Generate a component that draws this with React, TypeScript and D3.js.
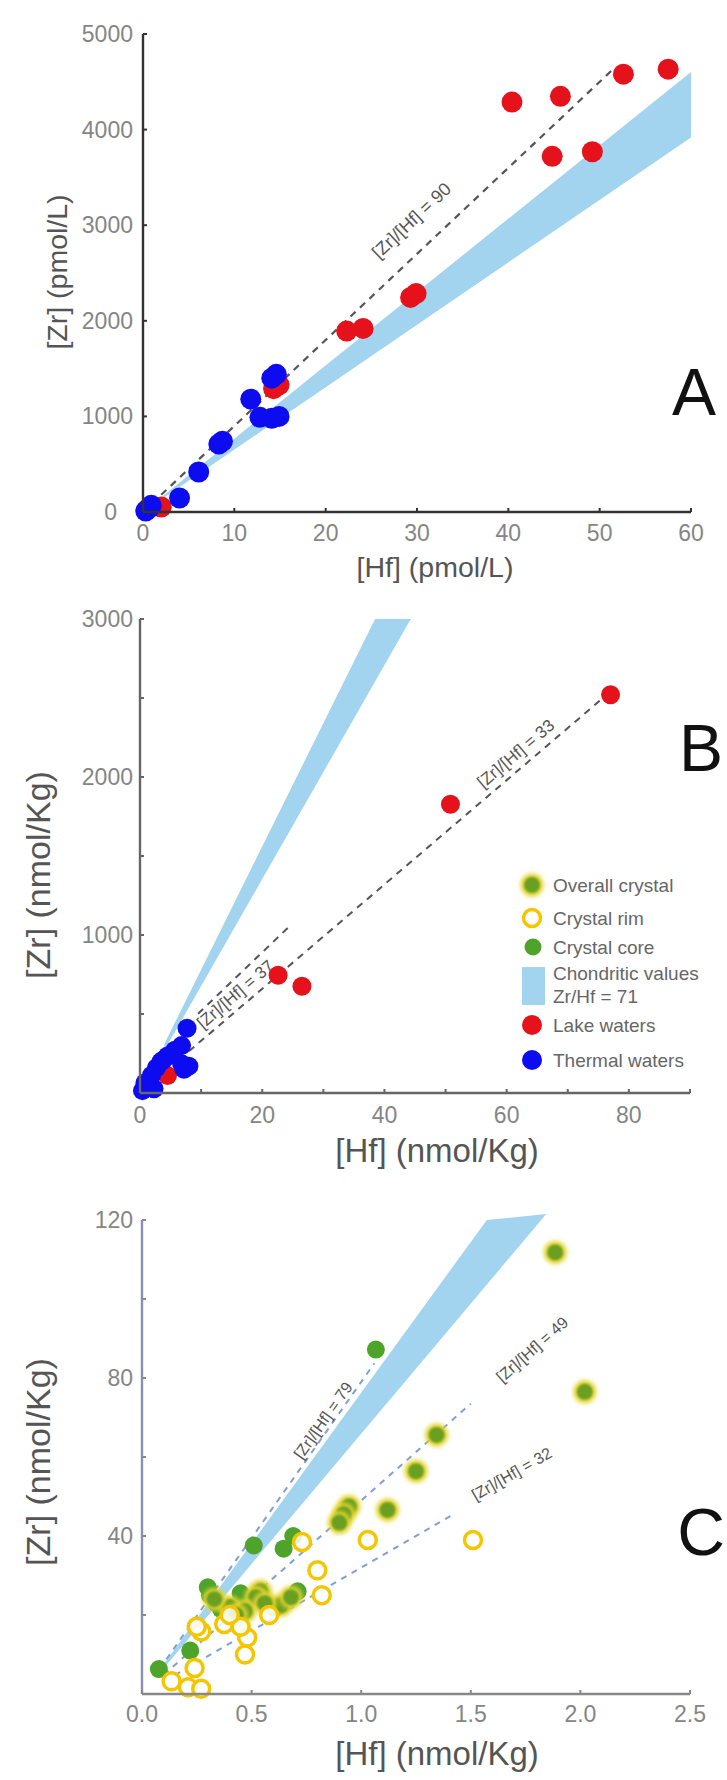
import React from "react";
import * as d3 from "d3";

// ---------- DATA ----------
// Panel A (pmol/L)
const aLakeHf = [40.4, 45.7, 52.6, 57.5, 44.8, 49.2, 29.3, 29.9, 22.3, 24.1, 14.3, 14.9, 2.0];
const aLakeZr = [4288, 4348, 4580, 4632, 3720, 3768, 2245, 2285, 1892, 1920, 1290, 1330, 52];
const aThermalHf = [14.6, 14.1, 11.8, 12.8, 14.1, 14.9, 8.7, 8.3, 6.1, 4.0, 0.7, 0.3, 0.9, 0.5];
const aThermalZr = [1440, 1400, 1180, 990, 980, 1000, 740, 710, 418, 146, 42, 10, 70, 30];
const aBandRatios = [76.7, 65.3];
const aBandHf = [2, 60];
const aLineRatio = [90];
const aLineHf = [[2, 51.5]];
const aLineLabelHf = [31.5];

// Panel B (nmol/Kg)
const bLakeHf = [77.0, 50.8, 22.6, 26.5, 4.5];
const bLakeZr = [2521, 1827, 745, 676, 110];
const bThermalHf = [7.7, 6.8, 5.7, 4.5, 3.4, 7.2, 8.0, 6.8, 2.7, 1.9, 0.8, 1.1, 0.4, 2.3, 3.8, 1.1];
const bThermalZr = [410, 300, 270, 234, 197, 150, 170, 185, 160, 112, 63, 39, 15, 27, 209, 50];
const bBandRatios = [78, 67.7];
const bBandHf = [4];
const bBandTopZr = 3000;
const bLineRatio = [33, 37];
const bLineIntercept = [0, 150];
const bLineHf = [[8, 77], [9.5, 24.5]];
const bLineLabelHf = [63, 17];

// Panel C (nmol/Kg)
const cOverallHf = [1.885, 2.02, 1.344, 1.25, 1.12, 0.944, 0.92, 0.9, 0.54, 0.635, 0.4, 0.52, 0.47, 0.56, 0.68, 0.33, 0.43];
const cOverallZr = [111.8, 76.5, 65.6, 56.4, 46.6, 47.5, 45.5, 43.4, 26, 22.5, 22, 24.5, 21, 23, 24.5, 24, 20];
const cCoreHf = [1.067, 0.51, 0.646, 0.69, 0.3, 0.31, 0.34, 0.36, 0.45, 0.47, 0.71, 0.22, 0.077, 0.6];
const cCoreZr = [87.2, 37.6, 36.8, 40, 27, 25, 23, 21.5, 25.5, 23, 26, 11, 6.3, 22];
const cRimHf = [1.51, 1.03, 0.73, 0.8, 0.82, 0.48, 0.47, 0.27, 0.375, 0.24, 0.21, 0.27, 0.135, 0.25, 0.45, 0.58, 0.4];
const cRimZr = [39, 39, 38.5, 31.3, 25, 14.3, 10, 15.8, 17.7, 6.6, 1.7, 1.3, 3.2, 17, 17, 20, 20];
const cBandRatios = [76.3, 65.9];
const cBandHf = [0.08];
const cBandTop = [[1.573, 120], [1.844, 121.5]];
const cLineRatio = [79, 49, 32];
const cLineHf = [[0.08, 1.06], [0.1, 1.5], [0.15, 1.43]];
const cLineLabelHf = [0.86, 1.78, 1.7];

// Ticks
const aXTicks = [0, 10, 20, 30, 40, 50, 60];
const aYTicks = [0, 1000, 2000, 3000, 4000, 5000];
const bXTicks = [0, 10, 20, 30, 40, 50, 60, 70, 80, 90];
const bXLabels = [0, 20, 40, 60, 80];
const bYTicks = [0, 500, 1000, 1500, 2000, 2500, 3000];
const bYLabels = [1000, 2000, 3000];
const cXTicks = [0, 0.5, 1.0, 1.5, 2.0, 2.5];
const cYTicks = [0, 20, 40, 60, 80, 100, 120];
const cYLabels = [40, 80, 120];

const legendLabels = ["Overall crystal", "Crystal rim", "Crystal core", "Chondritic values", "Zr/Hf = 71", "Lake waters", "Thermal waters"];

// ---------- STYLE ----------
const FONT = "'Liberation Sans', Arial, Helvetica, sans-serif";
const RED = "#e5121b";
const BLUE = "#0d0cf0";
const BAND = "#a2d4ef";
const CORE = "#4ea32a";
const OVERALL = "#6a9f22";
const HALO = "#e2d42e";
const RIM = "#f3c600";
const TICKC = "#858585";

type Sc = d3.ScaleLinear<number, number>;

function lineLabel(x: Sc, y: Sc, ratio: number, intercept: number, hf: number, text: string, off: number, size: number, color: string, key: string) {
  const px = x(hf);
  const py = y(ratio * hf + intercept);
  const px2 = x(hf + 1);
  const py2 = y(ratio * (hf + 1) + intercept);
  const ang = (Math.atan2(py2 - py, px2 - px) * 180) / Math.PI;
  return (
    <g key={key} transform={`translate(${px},${py}) rotate(${ang})`}>
      <text y={off} textAnchor="middle" dominantBaseline="central" fontFamily={FONT} fontSize={size} fill={color}>
        {text}
      </text>
    </g>
  );
}

function Axes(props: {
  x: Sc; y: Sc; xTicks: number[]; xLabels: number[]; yTicks: number[]; yLabels: number[];
  fmtX: (v: number) => string; fmtY: (v: number) => string; axisColor: string; yAxisColor?: string; fontSize: number;
  xLabelY: number; yLabelX: number; zeroShift?: number;
}) {
  const { x, y, xTicks, xLabels, yTicks, yLabels, fmtX, fmtY, axisColor, fontSize, xLabelY, yLabelX } = props;
  const [x0, x1] = x.range();
  const [y0, y1] = y.range();
  return (
    <g>
      <line x1={x0} x2={x1} y1={y0} y2={y0} stroke={axisColor} strokeWidth={2.4} />
      <line x1={x0} x2={x0} y1={y0} y2={y1} stroke={props.yAxisColor || axisColor} strokeWidth={2.4} />
      {xTicks.map((t) => (
        <line key={"xt" + t} x1={x(t)} x2={x(t)} y1={y0} y2={y0 - 4} stroke={axisColor} strokeWidth={2} />
      ))}
      {yTicks.map((t) => (
        <line key={"yt" + t} x1={x0} x2={x0 + 4} y1={y(t)} y2={y(t)} stroke={axisColor} strokeWidth={2} />
      ))}
      {xLabels.map((t) => (
        <text key={"xl" + t} x={x(t)} y={xLabelY} textAnchor="middle" dominantBaseline="central" fontFamily={FONT} fontSize={fontSize} fill={TICKC}>
          {fmtX(t)}
        </text>
      ))}
      {yLabels.map((t) => (
        <text key={"yl" + t} x={yLabelX - (t === 0 && props.zeroShift ? props.zeroShift : 0)} y={y(t)} textAnchor="end" dominantBaseline="central" fontFamily={FONT} fontSize={fontSize} fill={TICKC}>
          {fmtY(t)}
        </text>
      ))}
    </g>
  );
}

export default function App() {
  // scales
  const ax = d3.scaleLinear().domain([0, 60]).range([143, 691]);
  const ay = d3.scaleLinear().domain([0, 5000]).range([512, 34]);
  const bx = d3.scaleLinear().domain([0, 90]).range([140, 690]);
  const by = d3.scaleLinear().domain([0, 3000]).range([1093, 619]);
  const cx = d3.scaleLinear().domain([0, 2.5]).range([142, 690]);
  const cy = d3.scaleLinear().domain([0, 120]).range([1694, 1220]);

  const line = d3.line<[number, number]>();

  // bands
  const aBand: [number, number][] = [
    [ax(aBandHf[0]), ay(aBandRatios[0] * aBandHf[0])],
    [ax(aBandHf[1]), ay(aBandRatios[0] * aBandHf[1])],
    [ax(aBandHf[1]), ay(aBandRatios[1] * aBandHf[1])],
    [ax(aBandHf[0]), ay(aBandRatios[1] * aBandHf[0])],
  ];
  const bBand: [number, number][] = [
    [bx(bBandHf[0]), by(bBandRatios[0] * bBandHf[0])],
    [bx(bBandTopZr / bBandRatios[0]), by(bBandTopZr)],
    [bx(bBandTopZr / bBandRatios[1]), by(bBandTopZr)],
    [bx(bBandHf[0]), by(bBandRatios[1] * bBandHf[0])],
  ];
  const cBand: [number, number][] = [
    [cx(cBandHf[0]), cy(cBandRatios[0] * cBandHf[0])],
    [cx(cBandTop[0][0]), cy(cBandTop[0][1])],
    [cx(cBandTop[1][0]), cy(cBandTop[1][1])],
    [cx(cBandHf[0]), cy(cBandRatios[1] * cBandHf[0])],
  ];

  const overallPt = (hf: number, zr: number, i: number, r: number) => (
    <g key={"ov" + i}>
      <circle cx={cx(hf)} cy={cy(zr)} r={r + 2.5} fill={HALO} filter="url(#blur2)" />
      <circle cx={cx(hf)} cy={cy(zr)} r={r - 1} fill={OVERALL} filter="url(#blur1)" />
    </g>
  );

  return (
    <svg width={727} height={1780} style={{ position: "absolute", left: 0, top: 0, background: "#fff" }}>
      <defs>
        <filter id="blur2" x="-50%" y="-50%" width="200%" height="200%">
          <feGaussianBlur stdDeviation="2" />
        </filter>
        <filter id="blur1" x="-50%" y="-50%" width="200%" height="200%">
          <feGaussianBlur stdDeviation="0.8" />
        </filter>
      </defs>
      <rect x={0} y={0} width={727} height={1780} fill="#fff" />

      {/* ---------------- Panel A ---------------- */}
      <g>
        <path d={line(aBand) + "Z"} fill={BAND} />
        {aLineRatio.map((r, i) => (
          <path key={"al" + i} d={line([[ax(aLineHf[i][0]), ay(r * aLineHf[i][0])], [ax(aLineHf[i][1]), ay(r * aLineHf[i][1])]])!} stroke="#555" strokeWidth={2.2} strokeDasharray="7,6" fill="none" />
        ))}
        {aLineRatio.map((r, i) => lineLabel(ax, ay, r, 0, aLineLabelHf[i], `[Zr]/[Hf] = ${r}`, -28, 18, "#555", "all" + i))}
        {aLakeHf.map((h, i) => (
          <circle key={"ar" + i} cx={ax(h)} cy={ay(aLakeZr[i])} r={10.5} fill={RED} />
        ))}
        {aThermalHf.map((h, i) => (
          <circle key={"ab" + i} cx={ax(h)} cy={ay(aThermalZr[i])} r={10.5} fill={BLUE} />
        ))}
        <Axes x={ax} y={ay} xTicks={aXTicks} xLabels={aXTicks} yTicks={aYTicks} yLabels={aYTicks}
          fmtX={(v) => String(v)} fmtY={(v) => String(v)} axisColor="#333" fontSize={23} xLabelY={533} yLabelX={133} zeroShift={16} />
        <text x={435} y={567} textAnchor="middle" dominantBaseline="central" fontFamily={FONT} fontSize={28.5} fill="#555">[Hf] (pmol/L)</text>
        <text transform="translate(57,272) rotate(-90)" textAnchor="middle" dominantBaseline="central" fontFamily={FONT} fontSize={28.5} fill="#555">[Zr] (pmol/L)</text>
        <text x={694} y={392} textAnchor="middle" dominantBaseline="central" fontFamily={FONT} fontSize={66} fill="#111">A</text>
      </g>

      {/* ---------------- Panel B ---------------- */}
      <g>
        <path d={line(bBand) + "Z"} fill={BAND} />
        {bLineRatio.map((r, i) => (
          <path key={"bl" + i} d={line([[bx(bLineHf[i][0]), by(r * bLineHf[i][0] + bLineIntercept[i])], [bx(bLineHf[i][1]), by(r * bLineHf[i][1] + bLineIntercept[i])]])!} stroke="#555" strokeWidth={2} strokeDasharray="7,6" fill="none" />
        ))}
        {lineLabel(bx, by, bLineRatio[0], 0, bLineLabelHf[0], `[Zr]/[Hf] = ${bLineRatio[0]}`, -14, 17, "#555", "bll0")}
        {lineLabel(bx, by, bLineRatio[0], 0, bLineLabelHf[1], `[Zr]/[Hf] = ${bLineRatio[1]}`, -13, 17, "#555", "bll1")}
        {bLakeHf.map((h, i) => (
          <circle key={"br" + i} cx={bx(h)} cy={by(bLakeZr[i])} r={9.5} fill={RED} />
        ))}
        {bThermalHf.map((h, i) => (
          <circle key={"bb" + i} cx={bx(h)} cy={by(bThermalZr[i])} r={9.5} fill={BLUE} />
        ))}
        <Axes x={bx} y={by} xTicks={bXTicks} xLabels={bXLabels} yTicks={bYTicks} yLabels={bYLabels}
          fmtX={(v) => String(v)} fmtY={(v) => String(v)} axisColor="#666" fontSize={23} xLabelY={1115} yLabelX={133} />
        <text x={437} y={1150} textAnchor="middle" dominantBaseline="central" fontFamily={FONT} fontSize={33} fill="#555">[Hf] (nmol/Kg)</text>
        <text transform="translate(38,875) rotate(-90)" textAnchor="middle" dominantBaseline="central" fontFamily={FONT} fontSize={34} fill="#555">[Zr] (nmol/Kg)</text>
        <text x={701} y={748} textAnchor="middle" dominantBaseline="central" fontFamily={FONT} fontSize={66} fill="#111">B</text>

        {/* legend */}
        <g fontFamily={FONT} fontSize={19} fill="#666">
          <circle cx={532} cy={885} r={11.5} fill={HALO} filter="url(#blur2)" />
          <circle cx={532} cy={885} r={8} fill={OVERALL} filter="url(#blur1)" />
          <text x={553} y={885} dominantBaseline="central">{legendLabels[0]}</text>
          <circle cx={532} cy={918} r={8.5} fill="#fff" stroke={RIM} strokeWidth={3.5} />
          <text x={553} y={918} dominantBaseline="central">{legendLabels[1]}</text>
          <circle cx={533} cy={947} r={8.5} fill={CORE} />
          <text x={553} y={947} dominantBaseline="central">{legendLabels[2]}</text>
          <rect x={522} y={967} width={23} height={38} fill={BAND} />
          <text x={553} y={973} dominantBaseline="central">{legendLabels[3]}</text>
          <text x={553} y={996} dominantBaseline="central">{legendLabels[4]}</text>
          <circle cx={532} cy={1025} r={10} fill={RED} />
          <text x={553} y={1025} dominantBaseline="central">{legendLabels[5]}</text>
          <circle cx={532} cy={1060} r={10} fill={BLUE} />
          <text x={553} y={1060} dominantBaseline="central">{legendLabels[6]}</text>
        </g>
      </g>

      {/* ---------------- Panel C ---------------- */}
      <g>
        <path d={line(cBand) + "Z"} fill={BAND} />
        {cLineRatio.map((r, i) => (
          <path key={"cl" + i} d={line([[cx(cLineHf[i][0]), cy(r * cLineHf[i][0])], [cx(cLineHf[i][1]), cy(r * cLineHf[i][1])]])!} stroke="#7f9fd6" strokeWidth={2} strokeDasharray="6,6" fill="none" />
        ))}
        {lineLabel(cx, cy, cLineRatio[0], 0, cLineLabelHf[0], `[Zr]/[Hf] = ${cLineRatio[0]}`, -9, 16, "#555", "cll0")}
        {lineLabel(cx, cy, cLineRatio[1], 0, cLineLabelHf[1], `[Zr]/[Hf] = ${cLineRatio[1]}`, 0, 16, "#555", "cll1")}
        {lineLabel(cx, cy, cLineRatio[2], 0, cLineLabelHf[2], `[Zr]/[Hf] = ${cLineRatio[2]}`, -6, 16, "#555", "cll2")}
        {cCoreHf.map((h, i) => (
          <circle key={"cc" + i} cx={cx(h)} cy={cy(cCoreZr[i])} r={9} fill={CORE} />
        ))}
        {cOverallHf.map((h, i) => overallPt(h, cOverallZr[i], i, 9))}
        {cRimHf.map((h, i) => (
          <circle key={"cr" + i} cx={cx(h)} cy={cy(cRimZr[i])} r={8.5} fill="#fff" fillOpacity={0.85} stroke={RIM} strokeWidth={3.5} />
        ))}
        <Axes x={cx} y={cy} xTicks={cXTicks} xLabels={cXTicks} yTicks={cYTicks} yLabels={cYLabels}
          fmtX={(v) => v.toFixed(1)} fmtY={(v) => String(v)} axisColor="#888" yAxisColor="#8a90b0" fontSize={23} xLabelY={1714} yLabelX={133} />
        <text x={437} y={1753} textAnchor="middle" dominantBaseline="central" fontFamily={FONT} fontSize={33} fill="#555">[Hf] (nmol/Kg)</text>
        <text transform="translate(38,1462) rotate(-90)" textAnchor="middle" dominantBaseline="central" fontFamily={FONT} fontSize={34} fill="#555">[Zr] (nmol/Kg)</text>
        <text x={701} y={1532} textAnchor="middle" dominantBaseline="central" fontFamily={FONT} fontSize={66} fill="#111">C</text>
      </g>
    </svg>
  );
}
